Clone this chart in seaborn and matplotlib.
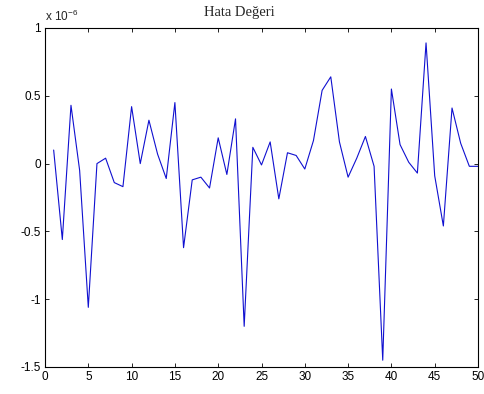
import seaborn as sns
import matplotlib.pyplot as plt
import pandas as pd

# error values (units of 1e-6)
x_idx = list(range(1, 51))
err = [0.10, -0.56, 0.43, -0.05, -1.06, 0.00, 0.04, -0.14, -0.17, 0.42,
       0.00, 0.32, 0.07, -0.11, 0.45, -0.62, -0.12, -0.10, -0.18, 0.19,
       -0.08, 0.33, -1.20, 0.12, -0.01, 0.16, -0.26, 0.08, 0.06, -0.04,
       0.17, 0.54, 0.64, 0.16, -0.10, 0.04, 0.20, -0.02, -1.45, 0.55,
       0.14, 0.01, -0.07, 0.89, -0.09, -0.46, 0.41, 0.15, -0.02, -0.02]
x_ticks = [0, 5, 10, 15, 20, 25, 30, 35, 40, 45, 50]
y_ticks = [-1.5, -1, -0.5, 0, 0.5, 1]
y_labels = ['-1.5', '-1', '-0.5', '0', '0.5', '1']

df = pd.DataFrame({'n': x_idx, 'hata': err})

sns.set_style('ticks')
plt.rcParams['font.family'] = ['Liberation Sans', 'DejaVu Sans']
plt.rcParams['mathtext.default'] = 'regular'

fig = plt.figure(figsize=(4.84, 3.94), dpi=100)
ax = fig.add_axes([45 / 484, 1 - 367 / 394, 433 / 484, 339 / 394])

sns.lineplot(data=df, x='n', y='hata', ax=ax, color='#1010d0', linewidth=0.8)

ax.set_xlim(0, 50)
ax.set_ylim(-1.5, 1)
ax.set_xticks(x_ticks)
ax.set_xticklabels([str(t) for t in x_ticks])
ax.set_yticks(y_ticks)
ax.set_yticklabels(y_labels)
ax.set_xlabel('')
ax.set_ylabel('')
ax.tick_params(direction='in', length=3, width=0.6, labelsize=8.5, pad=3,
               top=True, right=True, colors='black')
for s in ax.spines.values():
    s.set_visible(True)
    s.set_linewidth(0.8)
    s.set_color('black')

fig.text(45 / 484, 1 - 21 / 394, 'x 10$^{-6}$', fontsize=8.5, ha='left', va='baseline')
fig.text(239.5 / 484, 1 - 16 / 394, 'Hata Değeri', fontsize=10.5,
         family='Liberation Serif', ha='center', va='baseline')

fig.savefig('out.png', dpi=100)
